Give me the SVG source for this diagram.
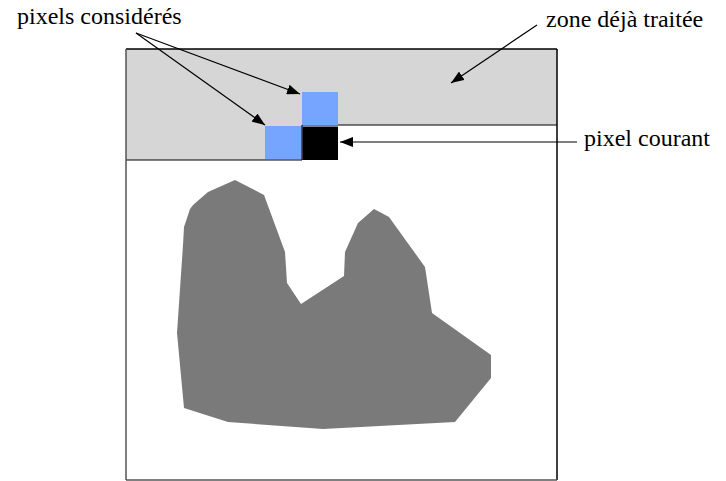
<svg xmlns="http://www.w3.org/2000/svg" width="726" height="481" viewBox="0 0 726 481">
<style>
.lbl{font-family:"Liberation Serif","Times New Roman",serif;font-size:24px;fill:#000}
.ln{stroke:#000;stroke-width:1.2;fill:none}
.arr{stroke:#000;stroke-width:1.2;fill:none;marker-end:url(#ah)}
</style>
<defs>
<marker id="ah" markerUnits="userSpaceOnUse" markerWidth="14" markerHeight="10" refX="13" refY="5" orient="auto">
<path d="M0,0 L13,5 L0,10 Z" fill="#000"/>
</marker>
</defs>
<rect width="726" height="481" fill="#fff"/>
<g id="zone">
<polygon points="126,49 557,49 557,125 302,125 302,160 126,160" fill="#d6d6d6"/>
<line class="ln" x1="302" y1="125" x2="557" y2="125"/>
<line class="ln" x1="126" y1="160" x2="302" y2="160"/>
<line class="ln" x1="302" y1="125" x2="302" y2="160"/>
</g>
<g id="frame">
<line x1="126" y1="49" x2="557" y2="49" stroke="#000" stroke-width="1.3"/>
<line x1="126" y1="49" x2="126" y2="480" stroke="#555" stroke-width="1.5"/>
<line x1="557" y1="49" x2="557" y2="480" stroke="#000" stroke-width="1.5"/>
<line x1="126" y1="480" x2="557" y2="480" stroke="#555" stroke-width="1.5"/>
</g>
<g id="pixel-haut"><rect x="302" y="92" width="36" height="33" fill="#75a5ff"/></g>
<g id="pixel-gauche"><rect x="265" y="126" width="36" height="33" fill="#75a5ff"/></g>
<g id="pixel-courant"><rect x="302.5" y="126.5" width="35.5" height="33.5" fill="#000"/></g>
<g id="forme">
<polygon points="235,180 264,195 285,252 287,283 301,304 344,276 345,252 358,223 374,209 389,217 425,267 432,313 491,355 491,378 455,422 323,429 228,422 184,408 177,333 183,245 184,227 190,209 193,205 208,192" fill="#7a7a7a"/>
</g>
<g id="connecteurs">
<line class="arr" x1="136" y1="33" x2="300" y2="94"/>
<line class="arr" x1="136" y1="33" x2="265" y2="125"/>
<line class="arr" x1="537" y1="25" x2="451" y2="83"/>
<line class="arr" x1="577" y1="142" x2="340" y2="142"/>
</g>
<g id="textes">
<text class="lbl" x="17" y="24">pixels considérés</text>
<text class="lbl" x="546" y="27">zone déjà traitée</text>
<text class="lbl" x="584" y="146">pixel courant</text>
</g>
</svg>
